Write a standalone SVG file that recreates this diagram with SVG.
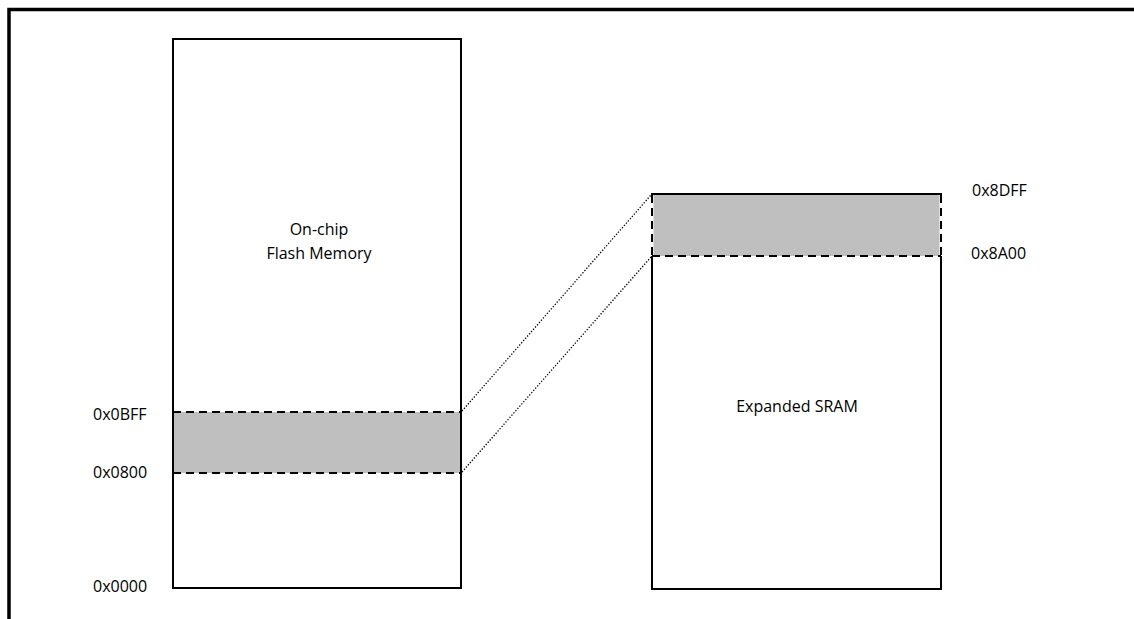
<svg xmlns="http://www.w3.org/2000/svg" width="1134" height="619" viewBox="0 0 1134 619">
  <style>
    .box { fill: #ffffff; stroke: #000000; stroke-width: 2; }
    .band { fill: #bfbfbf; stroke: none; }
    .dash { fill: none; stroke: #000000; stroke-width: 2; stroke-dasharray: 8 5; }
    .solid { fill: none; stroke: #000000; stroke-width: 2; }
    .dot { fill: none; stroke: #000000; stroke-width: 1.3; stroke-dasharray: 1.3 1.7; }
    .lbl { font-family: "Open Sans", "Liberation Sans", sans-serif; font-size: 16px; fill: #000000; }
    .mid { text-anchor: middle; }
  </style>

  <!-- outer frame: top and left edges only -->
  <path d="M9,619 V9.5 H1134" fill="none" stroke="#000000" stroke-width="3.5"/>

  <g id="flash">
    <rect class="box" x="173" y="39" width="288" height="549"/>
    <rect class="band" x="174" y="412" width="286" height="61"/>
    <line class="dash" x1="173" y1="412" x2="461" y2="412"/>
    <line class="dash" x1="173" y1="473" x2="461" y2="473"/>
    <line class="solid" x1="173" y1="39" x2="173" y2="588"/>
    <line class="solid" x1="461" y1="39" x2="461" y2="588"/>
    <text class="lbl mid" x="319" y="235">On-chip</text>
    <text class="lbl mid" x="319" y="259">Flash Memory</text>
    <text class="lbl" x="93" y="420">0x0BFF</text>
    <text class="lbl" x="93" y="478">0x0800</text>
    <text class="lbl" x="93" y="592">0x0000</text>
  </g>

  <g id="sram">
    <rect class="box" x="652" y="194" width="289" height="395"/>
    <rect class="band" x="653" y="195" width="287" height="61"/>
    <!-- window edges: dashed at the sides and bottom, solid on top -->
    <path d="M652,256 V195" fill="none" stroke="#ffffff" stroke-width="3"/>
    <path d="M941,256 V195" fill="none" stroke="#ffffff" stroke-width="3"/>
    <line class="dash" x1="652" y1="195" x2="652" y2="256"/>
    <line class="dash" x1="941" y1="195" x2="941" y2="256"/>
    <line class="dash" x1="652" y1="256" x2="941" y2="256"/>
    <line class="solid" x1="651" y1="194" x2="942" y2="194"/>
    <text class="lbl mid" x="797" y="412">Expanded SRAM</text>
    <text class="lbl" x="972" y="196">0x8DFF</text>
    <text class="lbl" x="971" y="259">0x8A00</text>
  </g>

  <g id="connectors">
    <line class="dot" x1="462" y1="411" x2="651" y2="195"/>
    <line class="dot" x1="462" y1="472" x2="651" y2="257"/>
  </g>
</svg>
